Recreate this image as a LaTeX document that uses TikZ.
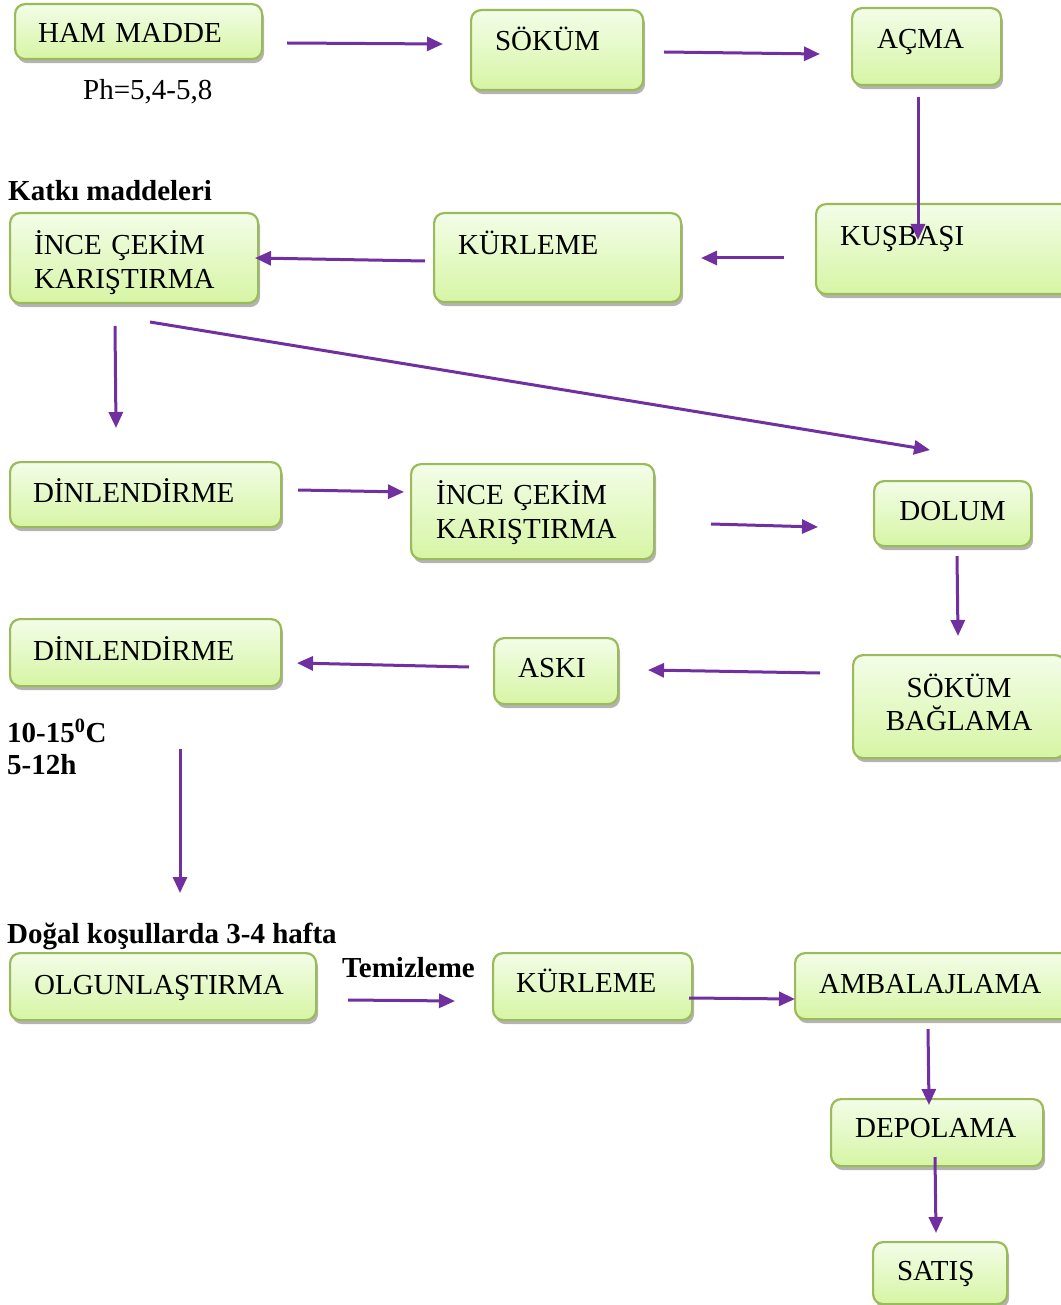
\documentclass[tikz,border=0pt]{standalone}
\usepackage{fontspec}
\setmainfont{Liberation Serif}
\usetikzlibrary{arrows.meta,shadows}
\definecolor{boxline}{HTML}{9BBB59}
\definecolor{boxtop}{HTML}{F3FDE8}
\definecolor{boxbot}{HTML}{D6F5A4}
\definecolor{flowpurple}{HTML}{7030A0}
\newcommand{\boxfont}{\fontsize{29}{34}\selectfont\hyphenpenalty=10000 }
\begin{document}
\begin{tikzpicture}[x=1pt, y=-1pt, every node/.style={font=\boxfont},
  pbox/.style={draw=boxline, line width=2.2pt, rounded corners=10pt,
    top color=boxtop, bottom color=boxbot, anchor=north west,
    drop shadow={shadow xshift=2pt, shadow yshift=-4pt, fill=black!50, opacity=0.6},
    inner xsep=24pt, inner ysep=0pt, align=left},
  note/.style={anchor=base west, inner sep=0pt, font=\boxfont\bfseries},
  arr/.style={line width=3pt, flowpurple, -{Triangle[length=16pt,width=14pt]}}]
  \useasboundingbox (0,0) rectangle (1060,1305);
  % Process boxes, row by row
  \node[pbox, inner xsep=23pt, text width=201pt, text height=38pt, text depth=17pt] (ham) at (14,3) {HAM MADDE};
  \node[pbox, text width=124pt, text height=40pt, text depth=40pt] (sokum) at (470,9) {SÖKÜM};
  \node[pbox, inner xsep=25pt, text width=99pt, text height=40pt, text depth=37pt] (acma) at (851,7) {AÇMA};
  \node[pbox, text width=207pt, text height=41pt, text depth=49pt] (kusbasi) at (815,203) {KUŞBAŞI};
  \node[pbox, text width=199pt, text height=41pt, text depth=48pt] (kurleme) at (433,212) {KÜRLEME};
  \node[pbox, text width=200pt, text height=41pt, text depth=49pt] (ince) at (9,212) {İNCE ÇEKİM\\KARIŞTIRMA};
  \node[pbox, inner xsep=23pt, text width=225pt, text height=40pt, text depth=25pt] (dinlen) at (9,461) {DİNLENDİRME};
  \node[pbox, inner xsep=25pt, text width=193pt, text height=40pt, text depth=55pt] (ince2) at (410,463) {İNCE ÇEKİM\\KARIŞTIRMA};
  \node[pbox, inner xsep=10pt, text width=137pt, text height=39pt, text depth=26pt, align=center] (dolum) at (873,480) {DOLUM};
  \node[pbox, inner xsep=10pt, text width=192pt, text height=42pt, text depth=61pt, align=center,
    font=\fontsize{29}{33}\selectfont] (sokbag) at (852,654) {SÖKÜM\\BAĞLAMA};
  \node[pbox, text width=76pt, text height=39pt, text depth=27pt] (aski) at (493,637) {ASKI};
  \node[pbox, inner xsep=23pt, text width=225pt, text height=41pt, text depth=26pt] (dinlen2) at (9,618) {DİNLENDİRME};
  \node[pbox, text width=258pt, text height=41pt, text depth=26pt] (olgun) at (9,952) {OLGUNLAŞTIRMA};
  \node[pbox, inner xsep=23pt, text width=153pt, text height=39pt, text depth=28pt] (kurleme2) at (492,952) {KÜRLEME};
  \node[pbox, text width=240pt, text height=40pt, text depth=26pt] (ambal) at (794,952) {AMBALAJLAMA};
  \node[pbox, text width=164pt, text height=38pt, text depth=29pt] (depo) at (830,1098) {DEPOLAMA};
  \node[pbox, text width=86pt, text height=38pt, text depth=24pt] (satis) at (872,1241) {SATIŞ};
  % Side notes
  \node[note, font=\boxfont] (ph) at (83,100) {Ph=5,4-5,8};
  \node[note] (katki) at (8,201) {Katkı maddeleri};
  \node[note] (derece) at (7,742) {10-15\textsuperscript{0}C};
  \node[note] (saat) at (7,774) {5-12h};
  \node[note] (dogal) at (7,943) {Doğal koşullarda 3-4 hafta};
  \node[note] (temiz) at (342,977) {Temizleme};
  % Arrow ends (arrows float between the boxes)
  \coordinate (hamR) at (287,43);     \coordinate (sokumL) at (443,44);
  \coordinate (sokumR) at (664,52);   \coordinate (acmaL) at (820,54);
  \coordinate (acmaB) at (918,97);    \coordinate (kusT) at (918,240);
  \coordinate (kusL) at (784,258);    \coordinate (kurR) at (701,258);
  \coordinate (kurL) at (425,261);    \coordinate (inceR) at (255,258);
  \coordinate (inceB) at (115,326);   \coordinate (dinT) at (116,428);
  \coordinate (inceD) at (150,322);   \coordinate (dolumT) at (930,450);
  \coordinate (dinR) at (298,490);    \coordinate (ince2L) at (404,492);
  \coordinate (ince2R) at (711,524);  \coordinate (dolumL) at (818,527);
  \coordinate (dolumB) at (957,556);  \coordinate (sokbagT) at (958,636);
  \coordinate (sokbagL) at (820,673); \coordinate (askiR) at (648,670);
  \coordinate (askiL) at (469,667);   \coordinate (din2R) at (297,663);
  \coordinate (din2B) at (180,749);   \coordinate (olgunT) at (180,893);
  \coordinate (olgunR) at (348,1000); \coordinate (kur2L) at (455,1001);
  \coordinate (kur2R) at (689,998);   \coordinate (ambalL) at (795,999);
  \coordinate (ambalB) at (928,1029); \coordinate (depoT) at (929,1105);
  \coordinate (depoB) at (935,1157);  \coordinate (satisT) at (936,1233);
  \draw[arr] (hamR) -- (sokumL);
  \draw[arr] (sokumR) -- (acmaL);
  \draw[arr] (acmaB) -- (kusT);
  \draw[arr] (kusL) -- (kurR);
  \draw[arr] (kurL) -- (inceR);
  \draw[arr] (inceB) -- (dinT);
  \draw[arr] (inceD) -- (dolumT);
  \draw[arr] (dinR) -- (ince2L);
  \draw[arr] (ince2R) -- (dolumL);
  \draw[arr] (dolumB) -- (sokbagT);
  \draw[arr] (sokbagL) -- (askiR);
  \draw[arr] (askiL) -- (din2R);
  \draw[arr] (din2B) -- (olgunT);
  \draw[arr] (olgunR) -- (kur2L);
  \draw[arr] (kur2R) -- (ambalL);
  \draw[arr] (ambalB) -- (depoT);
  \draw[arr] (depoB) -- (satisT);
\end{tikzpicture}
\end{document}
